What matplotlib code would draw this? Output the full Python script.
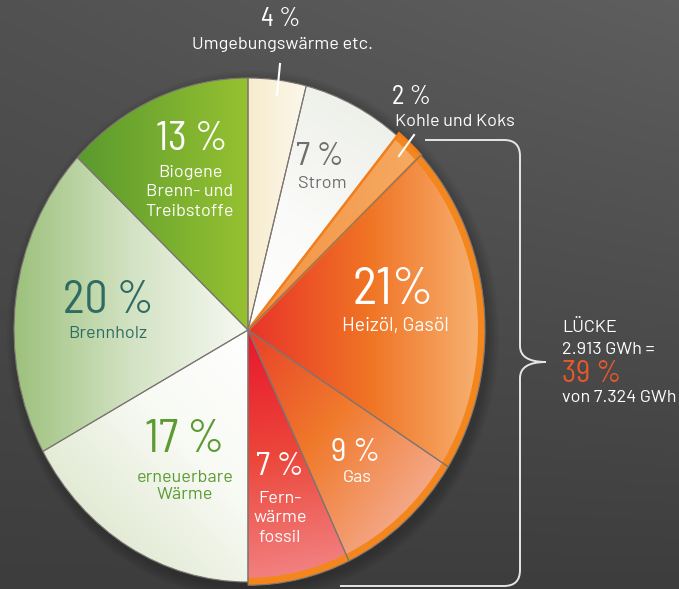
import numpy as np
import matplotlib.pyplot as plt
from matplotlib.colors import LinearSegmentedColormap
from matplotlib.patches import Wedge, Ellipse, PathPatch
from matplotlib.path import Path

# Daten
labels = ['Umgebungswärme etc.', 'Strom', 'Kohle und Koks', 'Heizöl, Gasöl', 'Gas',
          'Fern-\nwärme\nfossil', 'erneuerbare\nWärme', 'Brennholz',
          'Biogene\nBrenn- und\nTreibstoffe']
values = [4, 7, 2, 21, 9, 7, 17, 20, 13]
fossil = [False, False, True, True, True, True, False, False, False]

gap_title = 'LÜCKE'
gap_gwh = '2.913 GWh ='
gap_pct = 39
total_gwh = 'von 7.324 GWh'

# Stil
grad_colors = [
    ['#F7ECCE', '#FCF7EA'],
    ['#FFFFFF', '#FAFAF8', '#EEF0EA'],
    ['#F39444', '#F6AA62'],
    ['#E8342A', '#F07424', '#F7B678'],
    ['#E8402A', '#F07A2C', '#F4AA8C'],
    ['#E8162C', '#EC463A', '#F28484'],
    ['#FFFFFF', '#F8FAF4', '#E2EAD4'],
    ['#9BC07A', '#D2E2C2', '#F7F9F3'],
    ['#5A9A2E', '#96C131'],
]
grad_dirs = [0, 60, 0, 0, -40, -80, 225, 0, 0]
num_colors = ['white', '#6E6E6E', 'white', 'white', 'white', 'white', '#5C9A33', '#2F6B63', 'white']
num_sizes = [19, 24, 19, 37, 24, 24, 33, 33, 29]
num_sep = [' ', ' ', ' ', '', ' ', ' ', ' ', ' ', ' ']
num_pos = [(281, 19), (320, 157), (412, 97), (393, 291), (356, 453), (280, 467),
           (185, 440), (108, 301), (192, 139)]
lab_pos = [(282, 45), (322, 183), (455, 121), (395, 326), (357, 477), (280, 518),
           (185, 486), (108, 334), (190, 192)]
lab_size = [13, 13, 13, 14, 13, 13, 13, 13, 13]
lab_spacing = [1.2, 1.2, 1.2, 1.2, 1.2, 1.4, 1.15, 1.2, 1.35]

W, H = 679, 589
cx, cy, rx, ry = 248, 330, 234, 252
pad = 1.1
num_font = ['Barlow Semi Condensed', 'Roboto Condensed', 'Liberation Sans Narrow', 'DejaVu Sans']
lab_font = ['Barlow', 'Roboto', 'DejaVu Sans']

fig = plt.figure(figsize=(W / 100, H / 100), dpi=100)

# Hintergrund
ax_bg = fig.add_axes([0, 0, 1, 1])
ax_bg.set_xlim(0, W)
ax_bg.set_ylim(H, 0)
ax_bg.axis('off')
yy, xx = np.mgrid[0:1:200j, 0:1:200j]
bg = 0.24 + 0.08 * (1 - yy) + 0.05 * xx * (1 - yy)
ax_bg.imshow(np.dstack([bg, bg, bg]), extent=(0, W, H, 0), aspect='auto', zorder=0)
# Schatten
for k in range(4, 28, 4):
    ax_bg.add_patch(Ellipse((cx + 5, cy + 5), 2 * rx + k, 2 * ry + k,
                            facecolor='black', alpha=0.035, edgecolor='none', zorder=1))

# Kreisdiagramm
ax = fig.add_axes([(cx - rx * pad) / W, (H - cy - ry * pad) / H,
                   2 * rx * pad / W, 2 * ry * pad / H])
wedges, _ = ax.pie(values, startangle=90, counterclock=False, radius=1,
                   wedgeprops=dict(facecolor='none', edgecolor='#7C7672', linewidth=0.8))
ax.set_aspect('auto')
ax.set_xlim(-pad, pad)
ax.set_ylim(-pad, pad)
ax.axis('off')

gy, gx = np.mgrid[-pad:pad:500j, -pad:pad:500j]
for i, w in enumerate(wedges):
    w.set_zorder(4)
    if fossil[i]:
        w.set_radius(1.013)
    verts = w.get_path().vertices
    a = np.deg2rad(grad_dirs[i])
    d = np.array([np.cos(a), np.sin(a)])
    proj = verts @ d
    t = (gx * d[0] + gy * d[1] - proj.min()) / (proj.max() - proj.min())
    cmap = LinearSegmentedColormap.from_list('g%d' % i, grad_colors[i])
    im = ax.imshow(cmap(np.clip(t, 0, 1)), extent=(-pad, pad, -pad, pad),
                   origin='lower', aspect='auto', zorder=2)
    im.set_clip_path(w)
    if fossil[i]:
        rim = Wedge((0, 0), 1.013, w.theta1, w.theta2, width=0.03,
                    facecolor='#F3861C', edgecolor='none', zorder=3)
        ax.add_patch(rim)
        if values[i] < 5:
            w.set_edgecolor('#F07E1E')
            w.set_linewidth(1.8)

# Beschriftungen
ax_t = fig.add_axes([0, 0, 1, 1])
ax_t.set_xlim(0, W)
ax_t.set_ylim(H, 0)
ax_t.axis('off')

for i, v in enumerate(values):
    ax_t.text(num_pos[i][0], num_pos[i][1], f'{v}{num_sep[i]}%', color=num_colors[i],
              fontsize=num_sizes[i], family=num_font, ha='center', va='center')
    ax_t.text(lab_pos[i][0], lab_pos[i][1], labels[i], color=num_colors[i],
              fontsize=lab_size[i], family=lab_font, ha='center', va='center',
              linespacing=lab_spacing[i])

# Hinweislinien
ax_t.plot([280, 277], [64, 95], color='white', lw=1.5)
ax_t.plot([414, 399], [135, 156], color='white', lw=1.5)

# Klammer
r = 16
brace = [
    (Path.MOVETO, (425, 140)), (Path.LINETO, (520 - r, 140)),
    (Path.CURVE3, (520, 140)), (Path.CURVE3, (520, 140 + r)),
    (Path.LINETO, (520, 346)),
    (Path.CURVE3, (520, 362)), (Path.CURVE3, (546, 362)),
    (Path.MOVETO, (546, 362)),
    (Path.CURVE3, (520, 362)), (Path.CURVE3, (520, 378)),
    (Path.LINETO, (520, 586 - r)),
    (Path.CURVE3, (520, 586)), (Path.CURVE3, (520 - r, 586)),
    (Path.LINETO, (340, 586)),
]
codes, verts = zip(*brace)
ax_t.add_patch(PathPatch(Path(verts, codes), facecolor='none', edgecolor='#E6E6E6', lw=1.4))

ax_t.text(562, 327, gap_title, color='white', fontsize=13, family=lab_font, va='center')
ax_t.text(562, 349, gap_gwh, color='white', fontsize=13, family=lab_font, va='center')
ax_t.text(562, 374, f'{gap_pct} %', color='#E8582A', fontsize=22, family=num_font, va='center')
ax_t.text(562, 398, total_gwh, color='white', fontsize=13, family=lab_font, va='center')

plt.savefig('out.png', dpi=100)
